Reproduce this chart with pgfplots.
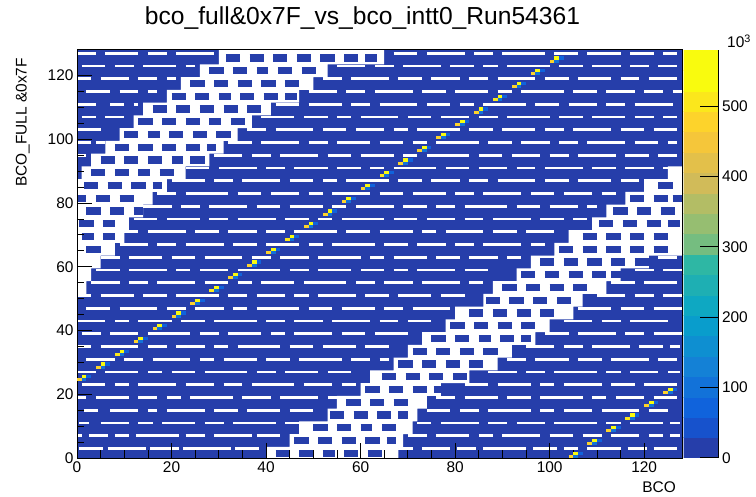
\documentclass[border=0pt]{standalone}
\usepackage{fontspec}
\setmainfont{Liberation Sans}
\usepackage{pgfplots}
\pgfplotsset{compat=1.18}
\usepackage{pgfplotstable}

\definecolor{c0}{RGB}{38,62,170}

% one histogram bin (4.7266bp x 3.1875bp)
\pgfdeclareplotmark{cell}{\pgfpathrectangle{\pgfpoint{-2.3633bp}{-1.59375bp}}{\pgfpoint{4.7266bp}{3.1875bp}}\pgfusepathqfill}

% empty-bin stripes: x start, y centre, width (bins)
\pgfplotstableread{
x y w
0.5 3 5
6.5 3 8
15.5 3 6
22.5 3 10
33.5 3 5
68 3 3
73 3 6
80.5 3 4
86 3 9
96.5 3 5
103 3 3
108 3 7
116.5 3 4
122 3 5
0 7 1
2.5 7 4
8 7 3
12.5 7 9
23 7 4
29 7 8
38 7 5
70 7 4
76 7 7
85 7 3
90 7 8
100 7 5
107 7 4
113 7 6
121 7 3
125.5 7 2
0.5 11 2
5 11 6
13 11 3
18 11 7
27 11 4
33 11 9
44 11 4
72 11 3
77 11 8
87 11 4
93 11 6
101 11 9
112 11 3
117 11 7
125.5 11 2
1.5 15 3
7 15 6
15 15 2
19 15 8
29 15 5
36 15 7
45 15 5
74 15 5
81 15 4
87 15 9
98 15 3
103 15 6
111 15 8
121 15 4
0 19 2
4 19 7
13 19 4
19 19 3
24 19 9
35 19 6
43 19 8
53 19 2
76 19 4
82 19 7
91 19 5
98 19 9
109 19 3
114 19 6
122 19 5
1 23 5
8 23 3
13 23 8
23 23 6
31 23 4
37 23 9
48 23 6
56 23 3
82 23 5
89 23 7
98 23 3
103 23 8
113 23 5
120 23 7
0 27 4
6 27 7
15 27 3
20 27 5
27 27 9
38 27 4
44 27 7
53 27 5
87 27 6
95 27 4
101 27 9
112 27 3
117 27 6
125 27 2.5
2 31 6
10 31 4
16 31 8
26 31 3
31 31 7
40 31 5
47 31 9
58 31 4
64 31 2
91 31 4
97 31 7
106 31 5
113 31 8
123 31 4
0 35 3
5 35 8
15 35 4
21 35 6
29 35 3
34 35 9
45 35 5
52 35 7
61 35 5
95 35 6
103 35 4
109 35 8
119 35 5
125.5 35 2
1 39 4
7 39 6
15 39 9
26 39 4
32 39 7
41 39 3
46 39 8
56 39 5
63 39 7
99 39 5
106 39 8
116 39 4
122 39 6
0 43 6
8 43 3
13 43 7
22 43 5
29 43 9
40 43 4
46 43 6
54 43 8
64 43 4
70 43 5
103 43 6
111 43 4
117 43 8
2 47 5
9 47 8
19 47 4
25 47 6
33 47 3
38 47 9
49 47 5
56 47 7
65 47 4
71 47 8
106 47 7
115 47 5
122 47 6
0 51 3
5 51 7
14 51 5
21 51 9
32 51 4
38 51 6
46 51 3
51 51 8
61 51 5
68 51 7
77 51 5
110 51 6
118 51 4
124 51 4
3 55 6
11 55 4
17 55 8
27 55 5
34 55 3
39 55 7
48 55 9
59 55 4
65 55 6
73 55 8
83 55 3
113 55 5
120 55 7
4 59 5
11 59 8
21 59 3
26 59 6
34 59 9
45 59 4
51 59 7
60 59 5
67 59 3
72 59 8
82 59 5
118 59 4
124 59 4
5 63 4
11 63 7
20 63 5
27 63 8
37 63 4
43 63 6
51 63 9
62 63 3
67 63 7
76 63 5
83 63 6
91 63 3
123 63 4
9 67 6
17 67 4
23 67 8
33 67 5
40 67 7
49 67 3
54 67 9
65 67 5
72 67 6
80 67 4
86 67 8
96 67 3
10 71 3
15 71 8
25 71 5
32 71 6
40 71 4
46 71 9
57 71 5
64 71 7
73 71 3
78 71 8
88 71 5
95 71 6
12 75 5
19 75 7
28 75 4
34 75 8
44 75 5
51 75 3
56 75 9
67 75 5
74 75 6
82 75 4
88 75 8
98 75 5
105 75 3
14 79 6
22 79 4
28 79 8
38 79 5
45 79 7
54 79 3
59 79 8
69 79 5
76 79 4
82 79 9
93 79 5
100 79 6
108 79 2
17 83 4
23 83 9
34 83 5
41 83 6
49 83 3
54 83 8
64 83 5
71 83 7
80 83 4
86 83 8
96 83 5
103 83 6
111 83 3
20 87 7
29 87 4
35 87 8
45 87 5
52 87 3
57 87 9
68 87 5
75 87 6
83 87 4
89 87 8
99 87 5
106 87 7
115 87 4
23 91 5
30 91 8
40 91 4
46 91 7
55 91 5
62 91 3
67 91 9
78 91 5
85 91 6
93 91 4
99 91 8
109 91 5
116 91 6
124 91 3
0 95 2
29 95 6
37 95 4
43 95 8
53 95 5
60 95 7
69 95 3
74 95 9
85 95 5
92 95 6
100 95 4
106 95 8
116 95 5
123 95 4
0 99 3
4 99 2
32 99 5
39 99 8
49 99 4
55 99 7
64 99 5
71 99 3
76 99 9
87 99 5
94 99 6
102 99 4
108 99 8
118 99 5
125 99 2
0 103 5
36 103 4
42 103 8
52 103 5
59 103 6
67 103 3
72 103 9
83 103 5
90 103 7
99 103 4
105 103 8
115 103 5
122 103 5
1 107 3
6 107 4
39 107 7
48 107 5
55 107 3
60 107 8
70 107 5
77 107 6
85 107 4
91 107 9
102 107 5
109 107 7
118 107 4
124 107 3
0 111 4
7 111 3
12 111 1
42 111 5
49 111 7
58 111 4
64 111 8
74 111 5
81 111 3
86 111 9
97 111 5
104 111 6
112 111 4
118 111 8
2 115 5
9 115 4
15 115 2
49 115 6
57 115 4
63 115 8
73 115 5
80 115 7
89 115 3
94 115 9
105 115 5
112 115 6
120 115 4
126 115 2
0 119 3
5 119 6
13 119 4
19 119 2
52 119 4
58 119 8
68 119 5
75 119 6
83 119 4
89 119 8
99 119 5
106 119 7
115 119 4
121 119 6
1 123 5
8 123 4
14 123 7
23 123 2
55 123 6
63 123 4
69 123 8
79 123 5
86 123 3
91 123 9
102 123 5
109 123 6
117 123 4
123 123 4
0 127 4
6 127 7
15 127 4
21 127 8
67 127 5
74 127 8
84 127 4
90 127 9
101 127 5
108 127 7
117 127 5
124 127 3
}\stripes

% filled blocks inside the two sparse diagonal bands
\pgfplotstableread{
x y w
2 65.5 3
1 69.5 2.5
5.5 69.5 2.5
0.5 73.5 3
5.5 73.5 2.5
2 77.5 3
7 77.5 3
12 77.5 2
0 81.5 2
4 81.5 3
9 81.5 3
1.5 85.5 3
6.5 85.5 3
11.5 85.5 3
16 85.5 2
3 89.5 3
8 89.5 3
13 89.5 2.5
17.5 89.5 3
5 93.5 3
10 93.5 3
15 93.5 3
20 93.5 2.5
24 93.5 3
8 97.5 3
13 97.5 3
18 97.5 3
23 97.5 3
27.5 97.5 2
10 101.5 3
15 101.5 2.5
19.5 101.5 3
24.5 101.5 3
29.5 101.5 3
13 105.5 3
18 105.5 3
23 105.5 3
28 105.5 2.5
32.5 105.5 3
16 109.5 3
21 109.5 3
26 109.5 3
31 109.5 3
36 109.5 3
20 113.5 3
25 113.5 3
30 113.5 2.5
34.5 113.5 3
39.5 113.5 3
44 113.5 2.5
24 117.5 3
29 117.5 3
34 117.5 3
39 117.5 3
44 117.5 3
28 121.5 3
33 121.5 3
38 121.5 2.5
42.5 121.5 3
47.5 121.5 3
31.5 125.5 3
36.5 125.5 3
41.5 125.5 3
46.5 125.5 3
51.5 125.5 3
56.5 125.5 3
61 125.5 2.5
42 1.5 3
47 1.5 3
52 1.5 2.5
56.5 1.5 3
61.5 1.5 3
46 5.5 3
51 5.5 3
56 5.5 3
61 5.5 3
65.5 5.5 2
50 9.5 3
55 9.5 3
60 9.5 2.5
64.5 9.5 3
53.5 13.5 3
58.5 13.5 3
63.5 13.5 3
68 13.5 2
57 17.5 3
62 17.5 3
67 17.5 3
61 21.5 3
66 21.5 3
71 21.5 3
75.5 21.5 2
64.5 25.5 3
69.5 25.5 3
74.5 25.5 3
79.5 25.5 3
68 29.5 3
73 29.5 3
78 29.5 3
83 29.5 3
71 33.5 3
76 33.5 3
81 33.5 3
86 33.5 3
75 37.5 3
80 37.5 3
85 37.5 2.5
89.5 37.5 3
94 37.5 2
79 41.5 3
84 41.5 3
89 41.5 3
94 41.5 3
83 45.5 3
88 45.5 3
93 45.5 3
98 45.5 3
86.5 49.5 3
91.5 49.5 3
96.5 49.5 3
101.5 49.5 3
90 53.5 3
95 53.5 3
100 53.5 3
105 53.5 3
94 57.5 3
99 57.5 3
104 57.5 3
109 57.5 3
113 57.5 2
98 61.5 3
103 61.5 3
108 61.5 3
113 61.5 3
118 61.5 3
102 65.5 3
107 65.5 3
112 65.5 3
117 65.5 3
122 65.5 3
107 69.5 3
112 69.5 3
117 69.5 3
122 69.5 3
110.5 73.5 3
115.5 73.5 3
120.5 73.5 3
125 73.5 2.5
113.5 77.5 3
118.5 77.5 3
123.5 77.5 3
117 81.5 3
122 81.5 3
126 81.5 2
123 85.5 3
}\blocks

% high-count bins along y = x+24 (mod 128), counts in 10^3
\pgfplotstableread{
x y v
0.5 24.5 490
1.5 25.5 565
1.5 24.5 95
2.5 25.5 70
4.5 28.5 480
5.5 29.5 570
5.5 28.5 90
6.5 29.5 65
8.5 32.5 500
9.5 33.5 560
9.5 32.5 95
10.5 33.5 70
12.5 36.5 485
13.5 37.5 570
13.5 36.5 90
14.5 37.5 75
16.5 40.5 495
17.5 41.5 565
17.5 40.5 95
18.5 41.5 70
20.5 44.5 470
21.5 45.5 560
21.5 44.5 90
22.5 45.5 65
24.5 48.5 490
25.5 49.5 565
25.5 48.5 95
26.5 49.5 70
28.5 52.5 500
29.5 53.5 570
29.5 52.5 90
30.5 53.5 70
32.5 56.5 480
33.5 57.5 565
33.5 56.5 95
34.5 57.5 65
36.5 60.5 495
37.5 61.5 570
37.5 60.5 90
38.5 61.5 70
40.5 64.5 485
41.5 65.5 565
41.5 64.5 95
42.5 65.5 70
44.5 68.5 500
45.5 69.5 560
45.5 68.5 90
46.5 69.5 65
48.5 72.5 490
49.5 73.5 570
49.5 72.5 95
50.5 73.5 70
52.5 76.5 480
53.5 77.5 565
53.5 76.5 90
54.5 77.5 70
56.5 80.5 495
57.5 81.5 570
57.5 80.5 95
58.5 81.5 65
60.5 84.5 485
61.5 85.5 560
61.5 84.5 90
62.5 85.5 70
64.5 88.5 500
65.5 89.5 570
65.5 88.5 95
66.5 89.5 70
68.5 92.5 490
69.5 93.5 565
69.5 92.5 90
70.5 93.5 65
72.5 96.5 480
73.5 97.5 570
73.5 96.5 95
74.5 97.5 70
76.5 100.5 495
77.5 101.5 565
77.5 100.5 90
78.5 101.5 70
80.5 104.5 470
81.5 105.5 560
81.5 104.5 95
82.5 105.5 65
84.5 108.5 490
85.5 109.5 570
85.5 108.5 90
86.5 109.5 70
88.5 112.5 500
89.5 113.5 565
89.5 112.5 95
90.5 113.5 70
92.5 116.5 485
93.5 117.5 570
93.5 116.5 90
94.5 117.5 65
96.5 120.5 495
97.5 121.5 565
97.5 120.5 95
98.5 121.5 70
100.5 124.5 490
101.5 125.5 570
101.5 124.5 90
102.5 125.5 70
104.5 0.5 485
105.5 1.5 565
105.5 0.5 95
106.5 1.5 65
108.5 4.5 495
109.5 5.5 570
109.5 4.5 90
110.5 5.5 70
112.5 8.5 480
113.5 9.5 560
113.5 8.5 95
114.5 9.5 70
116.5 12.5 500
117.5 13.5 570
117.5 12.5 90
118.5 13.5 65
120.5 16.5 490
121.5 17.5 565
121.5 16.5 95
122.5 17.5 70
124.5 20.5 485
125.5 21.5 570
125.5 20.5 90
126.5 21.5 70
}\diag

\begin{document}
\begin{tikzpicture}
\useasboundingbox (0,0) rectangle (756bp,497bp);
\begin{axis}[
  at={(77bp,39bp)}, anchor=south west,
  scale only axis, width=605bp, height=408bp,
  xmin=0, xmax=128, ymin=0, ymax=128,
  axis on top,
  xtick={0,20,...,120}, ytick={0,20,...,120},
  minor tick num=3,
  tick align=inside, tick pos=left,
  major tick length=15bp, minor tick length=7.5bp,
  tick style={black, line width=0.8bp},
  axis line style={black, line width=1bp},
  ticklabel style={font=\fontsize{15.5}{17}\selectfont},
  /pgf/number format/assume math mode=true,
  colormap={rootbird}{rgb255=(38,62,170) rgb255=(23,82,204) rgb255=(16,99,220) rgb255=(18,114,217) rgb255=(20,129,214) rgb255=(14,143,209) rgb255=(9,157,204) rgb255=(14,168,194) rgb255=(30,175,179) rgb255=(46,183,164) rgb255=(82,186,146) rgb255=(117,189,128) rgb255=(150,190,113) rgb255=(179,189,101) rgb255=(209,187,89) rgb255=(227,192,74) rgb255=(245,198,58) rgb255=(253,211,43) rgb255=(251,231,28) rgb255=(249,251,14) rgb255=(249,251,14)},
  colormap access=piecewise constant,
  point meta min=0, point meta max=580,
  colorbar sampled,
  colorbar style={
    at={(parent axis.south east)}, anchor=south west, xshift=-7bp,
    width=35bp,
    samples=21,
    axis on top,
    ytick={0,100,200,300,400,500},
    yticklabel pos=right, ytick pos=right,
    axis y line*=right, axis x line=none,
    tick align=inside,
    major tick length=19bp,
    ytick style={black, line width=1bp},
    axis line style={black, line width=1bp},
    yticklabel style={font=\fontsize{15.5}{17}\selectfont},
    /pgf/number format/assume math mode=true,
    scaled y ticks=false,
  },
]
% non-empty bins everywhere (lowest level)
\addplot[draw=none, fill=c0] coordinates {(0,0) (128,0) (128,128) (0,128)} -- cycle;
% rows of empty bins (drawn as horizontal runs)
\addplot[only marks, mark=*, mark size=0pt, mark options={draw=none, fill=none},
  error bars/.cd, x dir=plus, x explicit, error mark=none,
  error bar style={line width=2.7bp, color=white}]
  table[x=x, y=y, x error=w] {\stripes};
% sparse diagonal bands (empty with scattered filled blocks)
\addplot[draw=none, fill=white] coordinates {(0,51.5) (0,87.5) (1,87.5) (1,91.5) (3,91.5) (3,95.5) (6,95.5) (6,99.5) (9,99.5) (9,103.5) (12,103.5) (12,107.5) (14,107.5) (14,111.5) (19,111.5) (19,115.5) (22,115.5) (22,119.5) (26,119.5) (26,123.5) (30,123.5) (30,128) (65,128) (65,123.5) (53,123.5) (53,119.5) (50,119.5) (50,115.5) (47,115.5) (47,111.5) (41,111.5) (41,107.5) (37,107.5) (37,103.5) (34,103.5) (34,99.5) (31,99.5) (31,95.5) (28,95.5) (28,91.5) (23,91.5) (23,87.5) (19,87.5) (19,83.5) (16,83.5) (16,79.5) (14,79.5) (14,75.5) (11,75.5) (11,71.5) (10,71.5) (10,67.5) (8,67.5) (8,63.5) (5,63.5) (5,59.5) (3,59.5) (3,55.5) (2,55.5) (2,51.5)} -- cycle;
\addplot[draw=none, fill=white] coordinates {(40,0) (40,3.5) (45,3.5) (45,7.5) (47,7.5) (47,11.5) (53,11.5) (53,15.5) (55,15.5) (55,19.5) (60,19.5) (60,23.5) (62,23.5) (62,27.5) (67,27.5) (67,31.5) (70,31.5) (70,35.5) (73,35.5) (73,39.5) (78,39.5) (78,43.5) (80,43.5) (80,47.5) (86,47.5) (86,51.5) (88,51.5) (88,55.5) (93,55.5) (93,59.5) (96,59.5) (96,63.5) (101,63.5) (101,67.5) (104,67.5) (104,71.5) (109,71.5) (109,75.5) (112,75.5) (112,79.5) (116,79.5) (116,83.5) (120,83.5) (120,87.5) (125,87.5) (125,91.5) (128,91.5) (128,63.5) (121,63.5) (121,59.5) (115,59.5) (115,55.5) (112,55.5) (112,51.5) (107,51.5) (107,47.5) (105,47.5) (105,43.5) (100,43.5) (100,39.5) (97,39.5) (97,35.5) (92,35.5) (92,31.5) (89,31.5) (89,27.5) (83,27.5) (83,23.5) (77,23.5) (77,19.5) (74,19.5) (74,15.5) (72,15.5) (72,11.5) (71,11.5) (71,7.5) (69,7.5) (69,3.5) (68,3.5) (68,0)} -- cycle;
\addplot[only marks, mark=*, mark size=0pt, mark options={draw=none, fill=none},
  error bars/.cd, x dir=plus, x explicit, error mark=none,
  error bar style={line width=7.3bp, color=c0}]
  table[x=x, y=y, x error=w] {\blocks};
% diagonal of high counts
\addplot[scatter, only marks, mark=cell, point meta=explicit] table[x=x, y=y, meta=v] {\diag};
\end{axis}
\node[anchor=base, font=\fontsize{24.7}{29}\selectfont] at (362.5bp,472bp) {bco\_full\&0x7F\_vs\_bco\_intt0\_Run54361};
\node[anchor=base east, rotate=90, font=\fontsize{15.5}{17}\selectfont, inner sep=0pt] at (26.5bp,439bp) {BCO\_FULL \&0x7F};
\node[anchor=base east, font=\fontsize{15.5}{17}\selectfont, inner sep=0pt] at (676bp,5bp) {BCO};
\node[anchor=base west, font=\fontsize{15.5}{17}\selectfont, inner sep=0pt] at (727bp,449bp) {10\textsuperscript{3}};
\end{tikzpicture}
\end{document}
